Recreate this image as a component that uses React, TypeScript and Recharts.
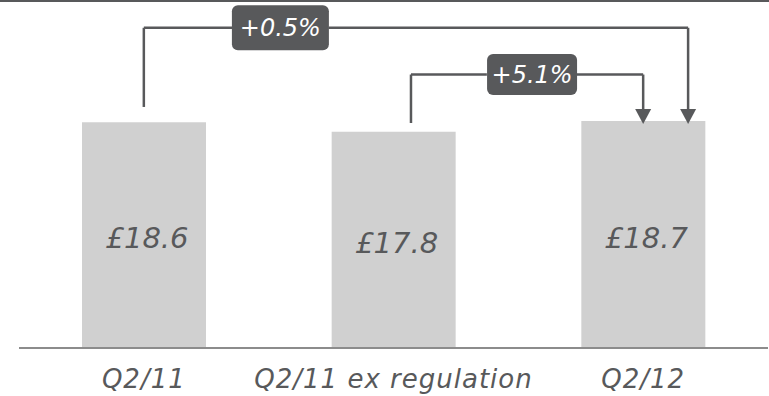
import { BarChart, Bar, XAxis, YAxis, ReferenceLine, ReferenceDot, LabelList } from 'recharts';

const categories = ['Q2/11', 'Q2/11 ex regulation', 'Q2/12'];
const values = [18.6, 17.8, 18.7];
const changes = ['+0.5%', '+5.1%'];

const data = categories.map((name, i) => ({ name, value: values[i], idx: i }));

const INK = '#58595b';
const BAR = '#d0d0d0';
const FONT = '"DejaVu Sans", sans-serif';

// bracket geometry lives on a hidden numeric x axis (category i sits at x = i)
// and in y data units, hung off the bar values
const brackets = [
  { label: changes[0], fromX: 0, fromY: values[0] + 1.25, toX: 2.18, level: 26.37, gap: [0.355, 0.74], boxX: 0.547, boxW: 97, boxH: 45 },
  { label: changes[1], fromX: 1.07, fromY: values[1] + 0.73, toX: 2.0, level: 22.52, gap: [1.374, 1.735], boxX: 1.555, boxW: 90, boxH: 41 },
];
const arrowTip = values[2] - 0.25;

const lineProps = { stroke: INK, strokeWidth: 2.5, xAxisId: 'n', ifOverflow: 'visible' as const };

function Arrow(p: any) {
  const { cx, cy } = p;
  return <polygon points={`${cx - 8},${cy - 15} ${cx + 8},${cy - 15} ${cx},${cy}`} fill={INK} />;
}

function Badge({ cx, cy, text, w, h }: any) {
  return (
    <g>
      <rect x={cx - w / 2} y={cy - h / 2} width={w} height={h} rx={6} ry={6} fill={INK} />
      <text x={cx} y={cy} textAnchor="middle" dominantBaseline="central" fill="#fff"
        style={{ fontFamily: FONT, fontStyle: 'italic', fontSize: 24 }}>{text}</text>
    </g>
  );
}

export default function App() {
  return (
    <div style={{ position: 'relative', width: 769, height: 396 }}>
      <style>{`body{margin:0}`}</style>
      <div style={{ position: 'absolute', top: 0, left: 0, width: 769, height: 2, background: INK }} />
      <BarChart width={769} height={396} data={data} margin={{ top: 8, right: 1, left: 19, bottom: 0 }}>
        <XAxis dataKey="name" height={48} axisLine={{ stroke: '#8c8c8c', strokeWidth: 2 }} tickLine={false}
          tickSize={0} tickMargin={22} interval={0}
          tick={{ fill: INK, fontSize: 26, fontStyle: 'italic', fontFamily: FONT, letterSpacing: 1 }} />
        <XAxis xAxisId="n" dataKey="idx" type="number" domain={[-0.5, 2.5]} allowDataOverflow hide />
        <YAxis domain={[0, 28]} allowDataOverflow hide />
        <Bar dataKey="value" fill={BAR} barSize={124} isAnimationActive={false}>
          <LabelList dataKey="value" position="center" dx={3} dy={3}
            formatter={(v: any) => `£${v}`}
            style={{ fill: INK, fontSize: 29, fontStyle: 'italic', fontFamily: FONT }} />
        </Bar>
        {brackets.map((b) => (
          <g key={b.label}>
            <ReferenceLine {...lineProps} segment={[{ x: b.fromX, y: b.fromY }, { x: b.fromX, y: b.level }]} />
            <ReferenceLine {...lineProps} segment={[{ x: b.fromX, y: b.level }, { x: b.gap[0], y: b.level }]} />
            <ReferenceLine {...lineProps} segment={[{ x: b.gap[1], y: b.level }, { x: b.toX, y: b.level }]} />
            <ReferenceLine {...lineProps} segment={[{ x: b.toX, y: b.level }, { x: b.toX, y: arrowTip + 0.6 }]} />
            <ReferenceDot xAxisId="n" x={b.toX} y={arrowTip} ifOverflow="visible" shape={(p: any) => <Arrow {...p} />} />
            <ReferenceDot xAxisId="n" x={b.boxX} y={b.level} ifOverflow="visible"
              shape={(p: any) => <Badge cx={p.cx} cy={p.cy} text={b.label} w={b.boxW} h={b.boxH} />} />
          </g>
        ))}
      </BarChart>
    </div>
  );
}
